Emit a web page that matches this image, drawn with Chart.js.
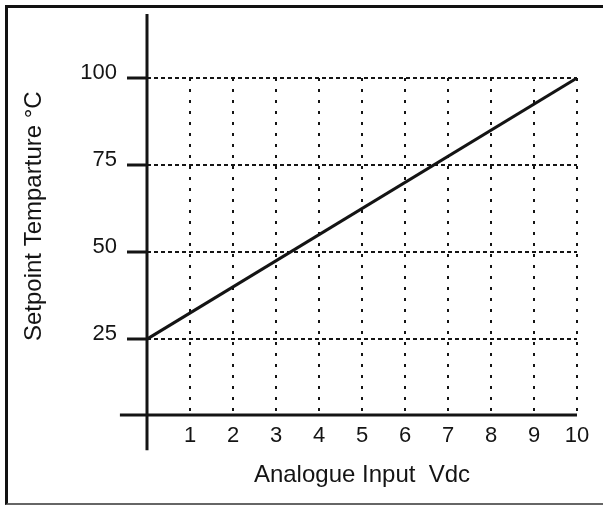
<!DOCTYPE html>
<html>
<head>
<meta charset="utf-8">
<script src="https://cdn.jsdelivr.net/npm/chart.js@4"></script>
<style>
  html, body { margin: 0; padding: 0; background: #fff; }
  #wrap { position: relative; width: 603px; height: 506px; overflow: hidden; }
  #frame { position: absolute; left: 5px; top: 5px; width: 620px; height: 495px;
           border-top: 3px solid #111; border-left: 3px solid #111; border-bottom: 2px solid #666; }
  canvas { position: absolute; left: 0; top: 0; }
</style>
</head>
<body>
<div id="wrap">
  <div id="frame"></div>
  <canvas id="c" width="603" height="506"></canvas>
</div>
<script>
// ---- data ----
const inputVolts = [0, 10];            // Analogue Input Vdc
const setpointTemps = [25, 100];       // Setpoint temperature °C
const xTickValues = [1, 2, 3, 4, 5, 6, 7, 8, 9, 10];
const yTickValues = [25, 50, 75, 100];

// ---- axis layout (data units) ----
const Y_MIN = 3.2, Y_MAX = 100;
const X_MIN = 0, X_MAX = 10;
const Y_AXIS_TOP = 118.4, Y_AXIS_BOTTOM = -6.9;
const X_AXIS_LEFT = -0.63;

const INK = '#141414';
const FONT = 'Liberation Sans, Arial, sans-serif';

const axisLines = {
  id: 'axisLines',
  afterDatasetsDraw(chart) {
    const { ctx, scales: { x, y } } = chart;
    ctx.save();
    ctx.strokeStyle = INK;
    ctx.lineWidth = 3;
    ctx.lineCap = 'butt';
    ctx.setLineDash([]);
    const x0 = x.getPixelForValue(0);
    ctx.beginPath();
    ctx.moveTo(x0, y.getPixelForValue(Y_AXIS_TOP));
    ctx.lineTo(x0, y.getPixelForValue(Y_AXIS_BOTTOM));
    ctx.stroke();
    const yb = y.getPixelForValue(Y_MIN);
    ctx.beginPath();
    ctx.moveTo(x.getPixelForValue(X_AXIS_LEFT), yb);
    ctx.lineTo(x.getPixelForValue(X_MAX), yb);
    ctx.stroke();
    ctx.restore();
  }
};

new Chart(document.getElementById('c'), {
  type: 'line',
  data: {
    datasets: [{
      data: inputVolts.map((v, i) => ({ x: v, y: setpointTemps[i] })),
      borderColor: INK,
      borderWidth: 3,
      pointRadius: 0,
      fill: false,
      tension: 0
    }]
  },
  plugins: [axisLines],
  options: {
    responsive: false,
    animation: false,
    events: [],
    layout: { padding: { top: 78, right: 26, left: 10, bottom: 10 } },
    plugins: { legend: { display: false }, tooltip: { enabled: false } },
    scales: {
      x: {
        type: 'linear',
        min: X_MIN, max: X_MAX,
        afterBuildTicks: s => { s.ticks = xTickValues.map(v => ({ value: v })); },
        afterFit: s => { s.height = 81; },
        border: { display: false, dash: [3, 8] },
        grid: {
          color: INK, lineWidth: 2,
          drawTicks: false
        },
        ticks: {
          padding: 8, maxRotation: 0, autoSkip: false,
          color: INK,
          font: { family: FONT, size: 22 }
        },
        title: {
          display: true, text: 'Analogue Input  Vdc', color: INK,
          font: { family: FONT, size: 24 },
          padding: { top: 0, bottom: 6 }
        }
      },
      y: {
        type: 'linear',
        min: Y_MIN, max: Y_MAX,
        afterBuildTicks: s => { s.ticks = yTickValues.map(v => ({ value: v })); },
        afterFit: s => { s.width = 137; },
        border: { display: false, dash: [4, 3] },
        grid: {
          color: INK, lineWidth: 2,
          drawTicks: true, tickLength: 20, tickWidth: 3, tickColor: INK, tickBorderDash: [20, 0]
        },
        ticks: {
          padding: 10, autoSkip: false, labelOffset: -5,
          color: INK,
          font: { family: FONT, size: 22 }
        },
        title: {
          display: true, text: 'Setpoint Temparture °C  ', color: INK, align: 'end',
          font: { family: FONT, size: 24 },
          padding: { top: 10, bottom: 0 }
        }
      }
    }
  }
});
</script>
</body>
</html>
